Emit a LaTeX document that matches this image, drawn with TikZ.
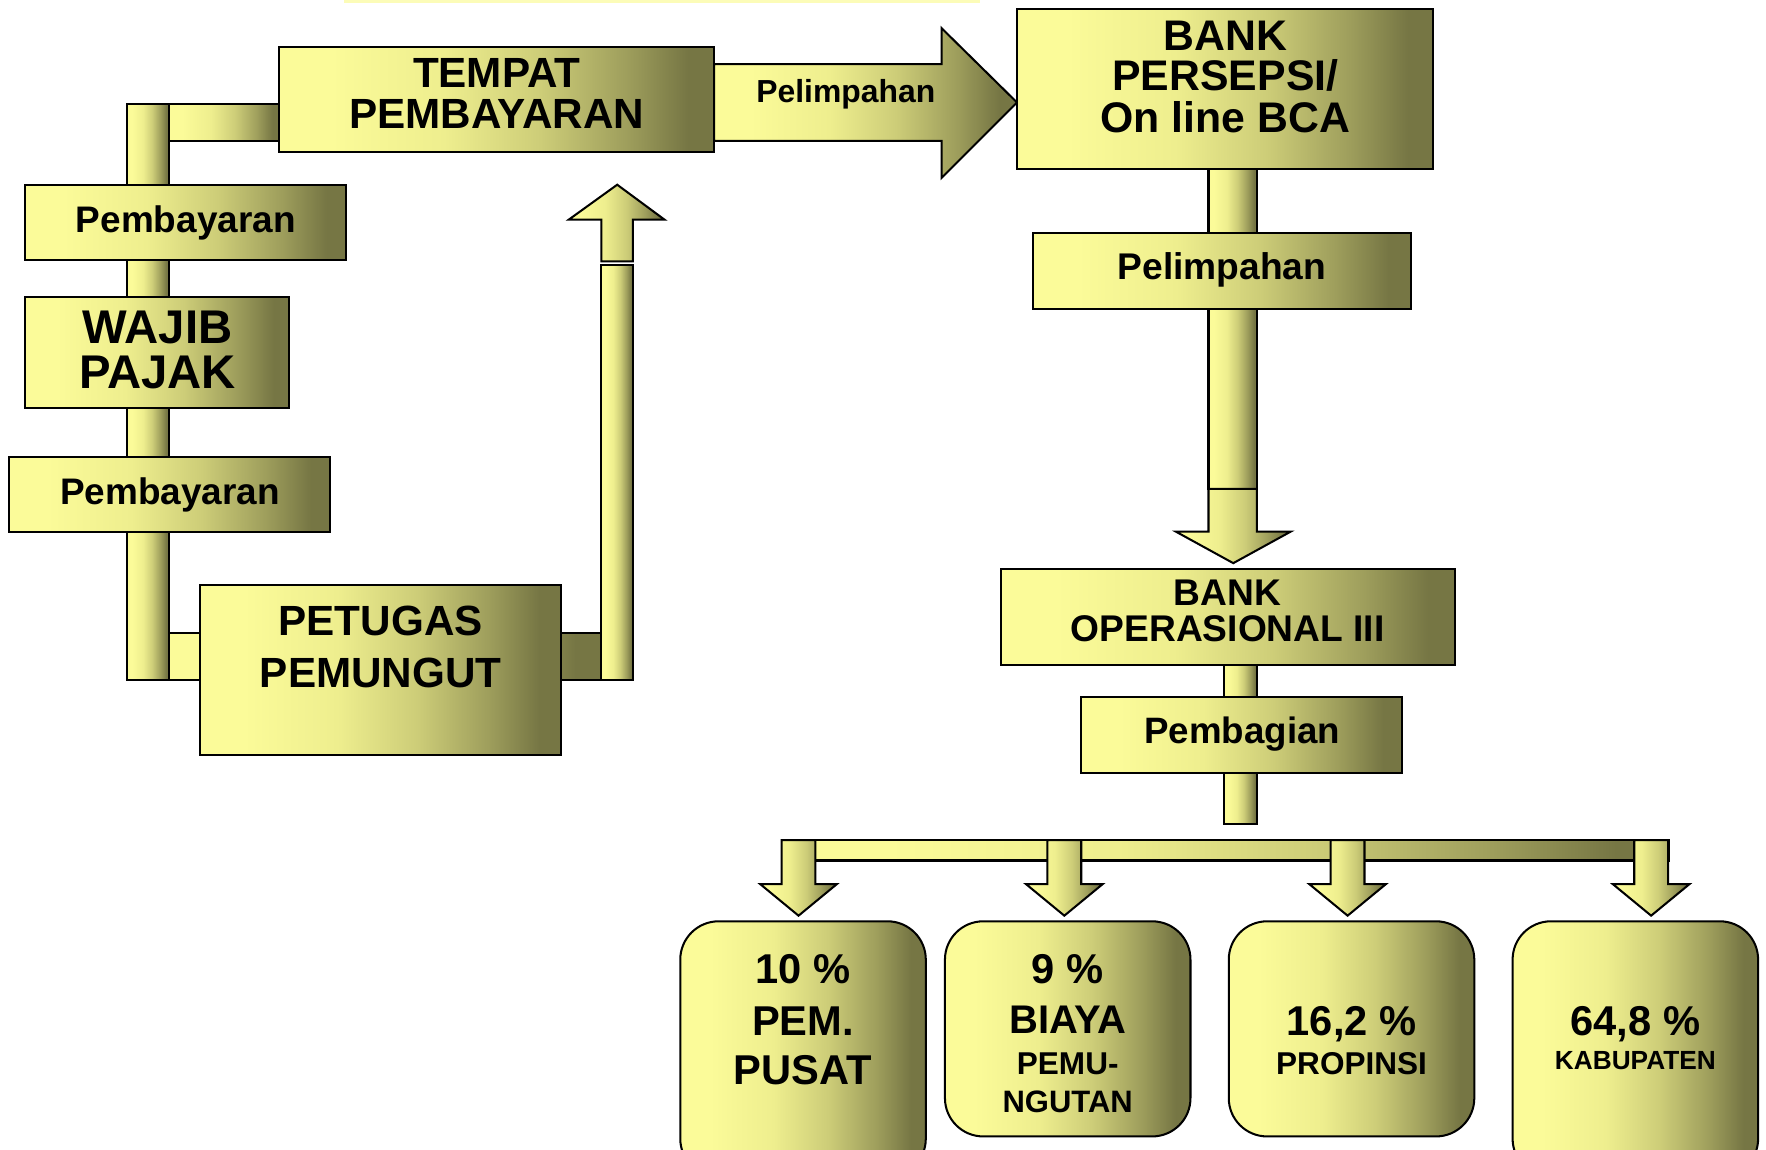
\documentclass[tikz,border=0pt]{standalone}
\usepackage{fontspec}
\setmainfont{Liberation Sans}
\definecolor{lite}{RGB}{251,251,153}
\definecolor{midA}{RGB}{238,238,142}
\definecolor{midB}{RGB}{205,205,120}
\definecolor{midC}{RGB}{158,158,92}
\definecolor{dark}{RGB}{118,118,68}
\pgfdeclarehorizontalshading{olive}{100bp}{color(0bp)=(lite); color(25bp)=(lite); color(31bp)=(lite); color(44bp)=(midA); color(55bp)=(midB); color(65bp)=(midC); color(72bp)=(dark); color(100bp)=(dark)}
\newcommand\fsz[1]{\fontsize{#1}{#1}\selectfont}
\tikzset{
  sh/.style={shading=olive, draw=black, line width=1.8pt, line join=miter},
  box/.style={sh, rectangle, anchor=north west, inner sep=0pt, outer sep=0pt},
  rbox/.style={box, rounded corners=34pt},
  txt/.style={inner sep=0pt, anchor=base, font=\bfseries, text=black},
}
\begin{document}
\begin{tikzpicture}[x=1pt,y=-1pt]
\useasboundingbox (0,0) rectangle (1568,1021);
\clip (0,0) rectangle (1568,1021);
% faint line at top
\fill[lite!70] (305,0) rectangle (870,2.5);

% ---- left loop bars
\path[sh] (113,92) rectangle (150,604);
\path[sh] (150,92) rectangle (248,125);
\path[sh] (150,562) rectangle (534,604);
\path[sh] (534,235) rectangle (562,604);
\path[sh] (534,232) -- (534,195) -- (505,195) -- (548,164) -- (590,195) -- (562,195) -- (562,232) -- cycle;

% ---- big arrow Pelimpahan
\path[sh] (634,57) -- (836,57) -- (836,25) -- (903,91) -- (836,158) -- (836,125) -- (634,125) -- cycle;

% ---- right column bars
\path[sh] (1073,150) rectangle (1116,434);
\path[sh] (1073,434) -- (1116,434) -- (1116,472) -- (1146,472) -- (1095,500) -- (1044,472) -- (1073,472) -- cycle;
\path[sh] (1087,590) rectangle (1116,732);

% ---- distribution bar and arrows
\path[sh] (694,746) rectangle (1482,764);
\foreach \c in {709,945,1196.5,1466}{
  \path[sh] (\c-15,746) -- (\c+15,746) -- (\c+15,785) -- (\c+34,785) -- (\c,813) -- (\c-34,785) -- (\c-15,785) -- cycle;
}

% ---- boxes
\node[box, minimum width=386pt, minimum height=93pt] (tempat) at (248,42) {};
\node[box, minimum width=369pt, minimum height=142pt] (persepsi) at (903,8) {};
\node[box, minimum width=336pt, minimum height=67pt] (limpah) at (917,207) {};
\node[box, minimum width=285pt, minimum height=67pt] (bayar1) at (22,164) {};
\node[box, minimum width=235pt, minimum height=98pt] (wajib) at (22,264) {};
\node[box, minimum width=285pt, minimum height=66pt] (bayar2) at (8,406) {};
\node[box, minimum width=320pt, minimum height=151pt] (petugas) at (178,519) {};
\node[box, minimum width=403pt, minimum height=85pt] (operasional) at (889,505) {};
\node[box, minimum width=285pt, minimum height=67pt] (bagi) at (960,619) {};

\node[rbox, minimum width=218pt, minimum height=227pt] (pusat) at (604,818) {};
\node[rbox, minimum width=218pt, minimum height=191pt] (biaya) at (839,818) {};
\node[rbox, minimum width=218pt, minimum height=191pt] (propinsi) at (1091,818) {};
\node[rbox, minimum width=218pt, minimum height=227pt] (kabupaten) at (1343,818) {};

% ---- texts
\node[txt] (tTa) at (441,78) {\fsz{37.5}TEMPAT};
\node[txt] (tTb) at (441,114) {\fsz{37.5}PEMBAYARAN};
\node[txt] (tPa) at (751,91) {\fsz{28.3}Pelimpahan};
\node[txt] (tBa) at (1088,44.6) {\fsz{38}BANK};
\node[txt] (tBb) at (1088,80.6) {\fsz{38}PERSEPSI/};
\node[txt] (tBc) at (1088,117.6) {\fsz{38}On line BCA};
\node[txt] (tPb) at (1085,248) {\fsz{33}Pelimpahan};
\node[txt] (tY1) at (165,206) {\fsz{32.8}Pembayaran};
\node[txt] (tWa) at (140,305) {\fsz{42}WAJIB};
\node[txt] (tWb) at (140,345) {\fsz{42}PAJAK};
\node[txt] (tY2) at (151,448) {\fsz{32.8}Pembayaran};
\node[txt] (tGa) at (338,564) {\fsz{37.5}PETUGAS};
\node[txt] (tGb) at (338,610) {\fsz{37.5}PEMUNGUT};
\node[txt] (tOa) at (1090,537.5) {\fsz{33}BANK};
\node[txt] (tOb) at (1090,569.5) {\fsz{33}OPERASIONAL III};
\node[txt] (tDa) at (1103,660) {\fsz{32.6}Pembagian};

\node[txt] (t1a) at (713,873) {\fsz{37}10 \%};
\node[txt] (t1b) at (713,919) {\fsz{37}PEM.};
\node[txt] (t1c) at (713,963) {\fsz{37}PUSAT};
\node[txt] (t2a) at (948,873) {\fsz{37}9 \%};
\node[txt] (t2b) at (948,917.5) {\fsz{35.5}BIAYA};
\node[txt] (t2c) at (948,954) {\fsz{28}PEMU-};
\node[txt] (t2d) at (948,988) {\fsz{27.5}NGUTAN};
\node[txt] (t3a) at (1200,919) {\fsz{37}16,2 \%};
\node[txt] (t3b) at (1200,954) {\fsz{28}PROPINSI};
\node[txt] (t4a) at (1452,919) {\fsz{37}64,8 \%};
\node[txt] (t4b) at (1452,950) {\fsz{23.3}KABUPATEN};
\end{tikzpicture}
\end{document}
